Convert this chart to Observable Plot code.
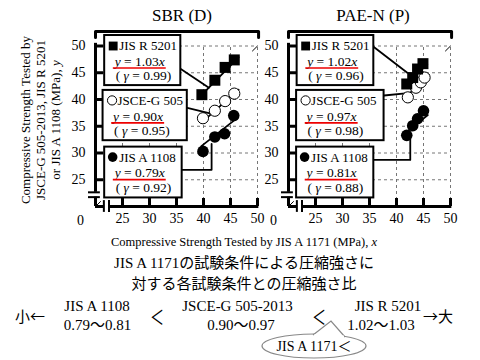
<!DOCTYPE html>
<html><head><meta charset="utf-8">
<script src="https://cdn.jsdelivr.net/npm/d3@7"></script>
<script src="https://cdn.jsdelivr.net/npm/@observablehq/plot@0.6"></script>
<style>
body{margin:0;background:#fff;}
#wrap{position:relative;width:480px;height:360px;overflow:hidden;background:#fff;}
#wrap svg{position:absolute;top:0;}
</style></head><body><div id="wrap"></div>
<script>
// ---------- data ----------
const panelTitles = ["SBR (D)", "PAE-N (P)"];
const seriesNames = ["JIS R 5201", "JSCE-G 505", "JIS A 1108"];
const xTicks = [25, 30, 35, 40, 45, 50];
const yTicks = [25, 30, 35, 40, 45, 50];

// SBR (D)
const sbrSlopes = [1.03, 0.90, 0.79];
const sbrGamma = [0.99, 0.95, 0.92];
const sbrR5201X = [39.7, 42.1, 44.0, 45.7];
const sbrR5201Y = [40.9, 43.6, 46.0, 47.4];
const sbrJsceX = [39.9, 42.1, 44.0, 45.7];
const sbrJsceY = [36.5, 37.9, 39.7, 41.1];
const sbrA1108X = [39.9, 42.1, 43.9, 45.6];
const sbrA1108Y = [30.3, 33.0, 33.6, 37.0];

// PAE-N (P)
const paeSlopes = [1.02, 0.97, 0.81];
const paeGamma = [0.96, 0.98, 0.88];
const paeR5201X = [41.9, 43.0, 43.9, 44.9];
const paeR5201Y = [42.9, 44.1, 45.7, 46.7];
const paeJsceX = [42.1, 43.6, 44.5, 45.2];
const paeJsceY = [40.4, 42.2, 43.2, 44.1];
const paeA1108X = [41.9, 43.0, 43.9, 45.0];
const paeA1108Y = [33.3, 35.1, 36.4, 37.9];

// bottom summary
const summaryNames = ["JIS A 1108", "JSCE-G 505-2013", "JIS R 5201"];
const summaryRanges = ["0.79～0.81", "0.90～0.97", "1.02～1.03"];

// ---------- layout (annotation boxes in data units) ----------
const sbrBoxes = [
  {x1: 21.7, x2: 35.8, y1: 42.6, y2: 51.96},
  {x1: 21.4, x2: 37.0, y1: 32.3, y2: 41.7},
  {x1: 21.7, x2: 36.05, y1: 21.6, y2: 31.1}
];
const sbrLinks = [
  [[35.8, 45.7], [41.0, 42.2]],
  [[37.0, 38.45], [41.2, 37.4]],
  [[36.05, 26.86], [41.5, 26.86], [41.5, 31.7]]
];
const paeBoxes = [
  {x1: 21.6, x2: 35.8, y1: 42.6, y2: 51.96},
  {x1: 21.5, x2: 37.7, y1: 32.3, y2: 41.7},
  {x1: 21.5, x2: 35.8, y1: 21.6, y2: 31.1}
];
const paeLinks = [
  [[35.8, 49.8], [42.0, 45.0]],
  [[37.7, 40.75], [42.1, 41.2]],
  [[35.8, 28.7], [42.55, 28.7], [42.55, 32.65]]
];

const serif = "Liberation Serif, Times New Roman, serif";

function zip(xs, ys) { return xs.map((x, i) => ({x, y: ys[i]})); }

function panel(sq, oc, fc, slopes, gammas, boxes, links) {
  const sets = [sq, oc, fc];
  const reg = sets.flatMap((s, i) => {
    const a = d3.min(s, d => d.x) - 0.3, b = d3.max(s, d => d.x) + 0.8;
    return [{x: a, y: slopes[i] * a, k: i}, {x: b, y: slopes[i] * b, k: i}];
  });
  const lo = 20, hi = 50;
  const fs = 13;
  return Plot.plot({
    width: 270, height: 240,
    marginLeft: 95, marginRight: 13, marginTop: 45.5, marginBottom: 34,
    x: {domain: [lo, hi], ticks: xTicks, tickSize: 0, tickPadding: 7, label: null},
    y: {domain: [lo, hi], ticks: yTicks, tickSize: 0, tickPadding: 10, label: null},
    style: {background: "transparent", overflow: "visible", fontFamily: serif, fontSize: "14px", color: "#000"},
    marks: [
      // dashed grid
      Plot.ruleX(xTicks, {x: d => d, y1: lo, y2: hi, stroke: "#666", strokeDasharray: "3,3", strokeWidth: 0.9}),
      Plot.ruleY(yTicks, {y: d => d, x1: lo, x2: hi, stroke: "#666", strokeDasharray: "3,3", strokeWidth: 0.9}),
      // 1:1 line (only its ends show, as in the original)
      Plot.line([[lo, lo], [hi, hi]], {stroke: "#000", strokeWidth: 1, strokeDasharray: "7,214"}),
      // regression lines
      Plot.line(reg, {x: "x", y: "y", z: "k", stroke: "#000", strokeWidth: 1.8}),
      // axis lines with breaks
      Plot.ruleX([lo], {y1: 22.65, y2: 50.5, strokeWidth: 3}),
      Plot.ruleX([lo], {y1: lo, y2: 21.75, strokeWidth: 3}),
      Plot.ruleY([lo], {x1: lo, x2: 21.55, strokeWidth: 3}),
      Plot.ruleY([lo], {x1: 22.5, x2: 50.25, strokeWidth: 3}),
      Plot.ruleY([22.65, 21.75], {y: d => d, x1: 18.7, x2: 20.9, strokeWidth: 2}),
      Plot.ruleX([21.55, 22.5], {x: d => d, y1: 18.9, y2: 21.1, strokeWidth: 2}),
      // inward ticks
      Plot.ruleX(xTicks, {x: d => d, y1: lo, y2: lo + 1.5, strokeWidth: 3}),
      Plot.ruleY(yTicks, {y: d => d, x1: lo, x2: lo + 1.5, strokeWidth: 3}),
      // "0" of broken axis
      Plot.text([0], {x: lo, y: lo, text: d => String(d), dx: -15, dy: 14, fontSize: 14}),
      // top bracket
      Plot.line([[lo, 51.6], [lo, 52.7], [50.2, 52.7], [50.2, 51.6]], {stroke: "#000", strokeWidth: 3}),
      // connectors
      ...links.map(l => Plot.line(l, {stroke: "#000", strokeWidth: 1.8})),
      // boxes
      Plot.rect(boxes, {x1: "x1", x2: "x2", y1: "y1", y2: "y2", fill: "white", stroke: "black", strokeWidth: 2}),
      Plot.dot(boxes.filter((b, i) => i === 0), {x: "x1", y: "y2", dx: 8.5, dy: 10.5, symbol: "square", r: 5, fill: "black"}),
      Plot.dot(boxes.filter((b, i) => i === 1), {x: "x1", y: "y2", dx: 9, dy: 10, r: 4.6, fill: "white", stroke: "black", strokeWidth: 1}),
      Plot.dot(boxes.filter((b, i) => i === 2), {x: "x1", y: "y2", dx: 8, dy: 10, r: 4.8, fill: "black"}),
      Plot.text(boxes, {x: "x1", y: "y2", text: (b, i) => seriesNames[i], dx: 14.5, dy: 10.5, textAnchor: "start", fontSize: fs}),
      Plot.text(boxes, {x: "x1", y: "y2", text: (b, i) => `y = ${slopes[i].toFixed(2)}x`, dx: 10, dy: 26, textAnchor: "start", fontSize: fs + 0.5}),
      Plot.ruleY(boxes, {y: "y2", x1: b => b.x1 + 1.6, x2: b => b.x1 + 11.4, dy: 32.5, stroke: "#e00", strokeWidth: 1.6}),
      Plot.text(boxes, {x: "x1", y: "y2", text: (b, i) => `( γ = ${gammas[i].toFixed(2)})`, dx: 11, dy: 40.5, textAnchor: "start", fontSize: fs + 0.5}),
      // data points
      Plot.dot(fc, {x: "x", y: "y", r: 5.8, fill: "black"}),
      Plot.dot(oc, {x: "x", y: "y", r: 5.6, fill: "white", stroke: "black", strokeWidth: 1}),
      Plot.dot(sq, {x: "x", y: "y", symbol: "square", r: 6.2, fill: "black"})
    ]
  });
}

function italicize(svg) {
  d3.select(svg).selectAll("text").each(function() {
    const t = this.textContent;
    let m;
    const s = d3.select(this);
    if ((m = t.match(/^y = (.*)x$/))) {
      s.text(null);
      s.append("tspan").attr("font-style", "italic").text("y");
      s.append("tspan").text(" = " + m[1]);
      s.append("tspan").attr("font-style", "italic").text("x");
    } else if ((m = t.match(/^\( γ = (.*)$/))) {
      s.text(null);
      s.append("tspan").text("( ");
      s.append("tspan").attr("font-style", "italic").text("γ");
      s.append("tspan").text(" = " + m[1]);
    }
  });
}

const wrap = document.getElementById("wrap");

const left = panel(zip(sbrR5201X, sbrR5201Y), zip(sbrJsceX, sbrJsceY), zip(sbrA1108X, sbrA1108Y), sbrSlopes, sbrGamma, sbrBoxes, sbrLinks);
left.style.left = "0px";
italicize(left);
wrap.appendChild(left);

const right = panel(zip(paeR5201X, paeR5201Y), zip(paeJsceX, paeJsceY), zip(paeA1108X, paeA1108Y), paeSlopes, paeGamma, paeBoxes, paeLinks);
right.style.left = "193px";
italicize(right);
wrap.appendChild(right);

// ---------- overlay text ----------
const ov = d3.select(wrap).append("svg").attr("width", 480).attr("height", 360)
  .style("left", "0px").style("pointer-events", "none");

// panel titles
[[182, panelTitles[0]], [373, panelTitles[1]]].forEach(([x, t]) =>
  ov.append("text").attr("x", x).attr("y", 15).attr("text-anchor", "middle").attr("dominant-baseline", "central")
    .attr("font-family", serif).attr("font-size", 17).text(t));

// y-axis label
const yl = ["Compressive Strength Tested by", "JSCE-G 505-2013, JIS R 5201", "or JIS A 1108 (MPa),  "];
yl.forEach((t, i) => {
  const tx = ov.append("text").attr("transform", `translate(${25 + i * 15},120) rotate(-90)`)
    .attr("text-anchor", "middle").attr("dominant-baseline", "central")
    .attr("font-family", serif).attr("font-size", 13).text(t);
  if (i === 2) tx.append("tspan").attr("font-style", "italic").text("y");
});

// x-axis label
const xl = ov.append("text").attr("x", 244).attr("y", 242).attr("text-anchor", "middle").attr("dominant-baseline", "central")
  .attr("font-family", serif).attr("font-size", 12.5).text("Compressive Strength Tested by JIS A 1171 (MPa),  ");
xl.append("tspan").attr("font-style", "italic").text("x");

const jp = `${serif.split(",")[0]}, "Noto Sans CJK JP", sans-serif`;
const jpSans = `"Noto Sans CJK JP", sans-serif`;
[["JIS A 1171の試験条件による圧縮強さに", 263], ["対する各試験条件との圧縮強さ比", 284]].forEach(([t, y]) =>
  ov.append("text").attr("x", 244).attr("y", y).attr("text-anchor", "middle").attr("dominant-baseline", "central")
    .attr("font-family", jp).attr("font-size", 15).text(t));

// comparison row
ov.append("text").attr("x", 15).attr("y", 315).attr("dominant-baseline", "central")
  .attr("font-family", jpSans).attr("font-size", 15).text("小←");
ov.append("text").attr("x", 423).attr("y", 315).attr("dominant-baseline", "central")
  .attr("font-family", jpSans).attr("font-size", 15).text("→大");
[[97, 97.5], [237.5, 241], [388, 381]].forEach(([x, x2], i) => {
  ov.append("text").attr("x", x).attr("y", 306).attr("text-anchor", "middle").attr("dominant-baseline", "central")
    .attr("font-family", serif).attr("font-size", 15).text(summaryNames[i]);
  ov.append("text").attr("x", x2).attr("y", 325).attr("text-anchor", "middle").attr("dominant-baseline", "central")
    .attr("font-family", jp).attr("font-size", 15).text(summaryRanges[i]);
});
[157, 319].forEach(x =>
  ov.append("text").attr("transform", `translate(${x},316) scale(0.7,1)`).attr("text-anchor", "middle").attr("dominant-baseline", "central")
    .attr("font-family", jpSans).attr("font-size", 20).text("＜"));

// callout ellipse
ov.append("ellipse").attr("cx", 314).attr("cy", 346).attr("rx", 52).attr("ry", 12)
  .attr("fill", "white").attr("stroke", "#888").attr("stroke-width", 1.2);
ov.append("path").attr("d", "M313,335 L331,321 L345,337").attr("fill", "white").attr("stroke", "#888").attr("stroke-width", 1.2);
ov.append("path").attr("d", "M314,335.5 L344,336.5").attr("stroke", "white").attr("stroke-width", 2);
ov.append("text").attr("x", 314).attr("y", 346).attr("text-anchor", "middle").attr("dominant-baseline", "central")
  .attr("font-family", jp).attr("font-size", 14).text("JIS A 1171＜");
</script></body></html>
